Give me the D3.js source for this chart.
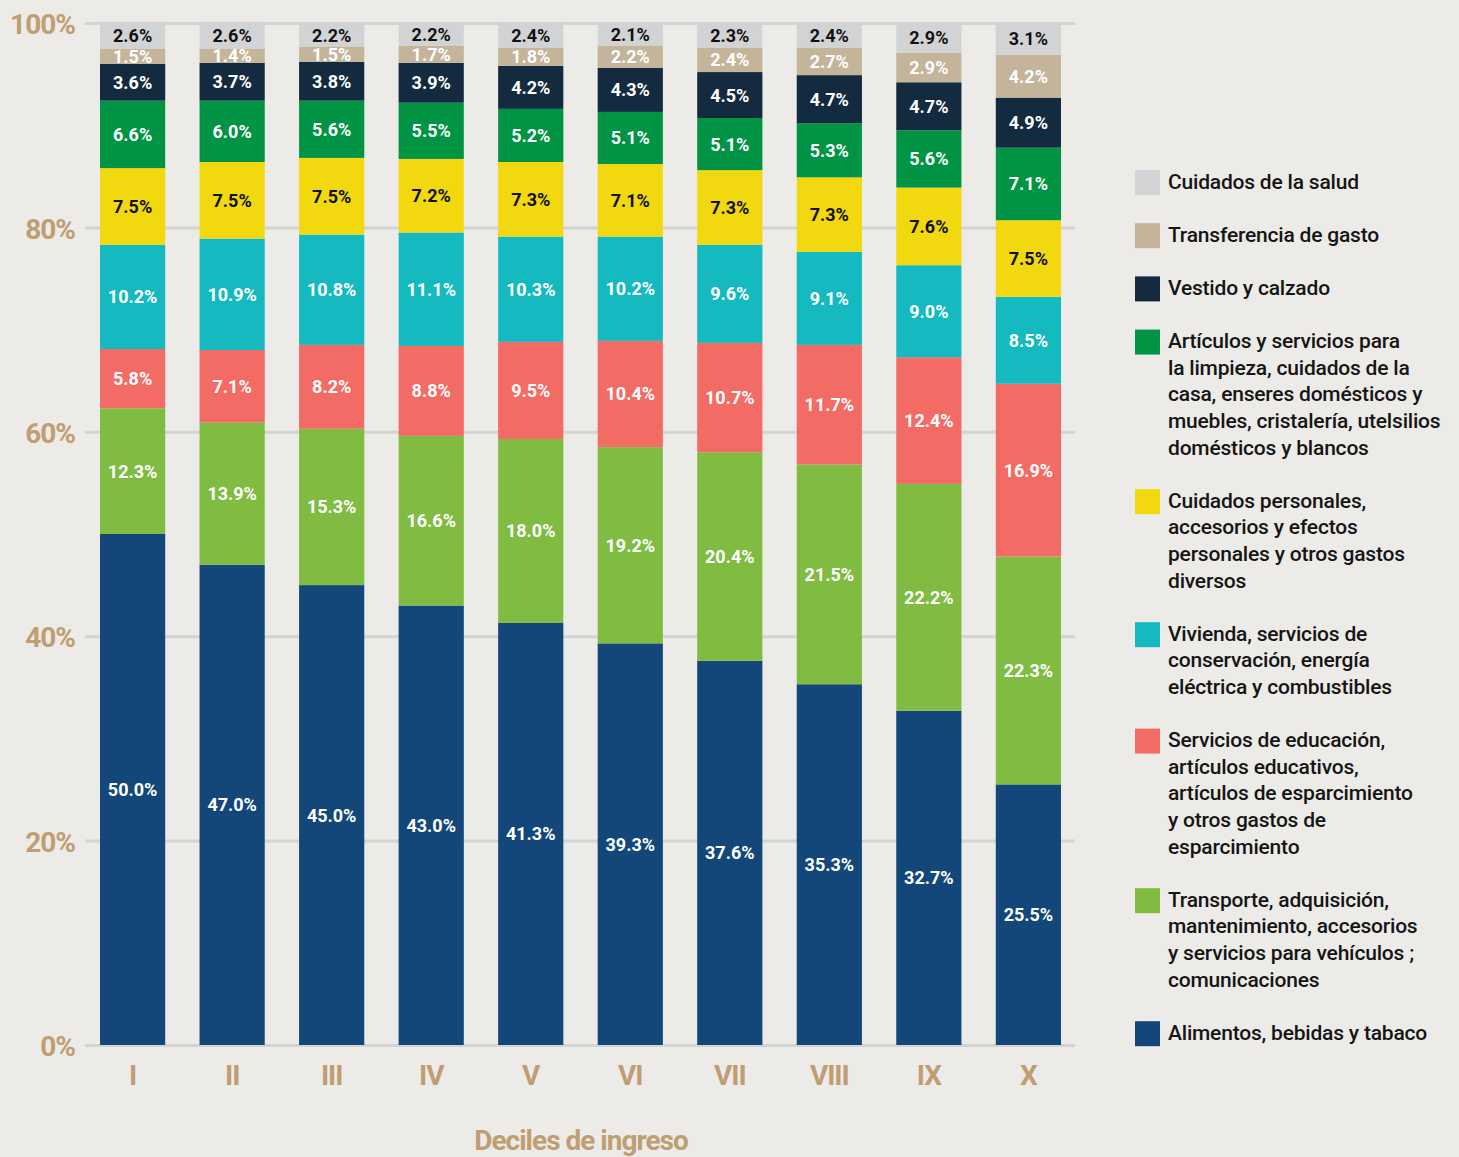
<!DOCTYPE html>
<html>
<head>
<meta charset="utf-8">
<title>Deciles de ingreso</title>
<style>
  body { margin: 0; background: #edebe8; }
  svg { display: block; }
</style>
</head>
<body>
<script src="https://cdn.jsdelivr.net/npm/d3@7"></script>
<script>
// deciles, bottom-to-top categories
var deciles = ["I", "II", "III", "IV", "V", "VI", "VII", "VIII", "IX", "X"];

var categories = [
  "Alimentos, bebidas y tabaco",
  "Transporte, adquisición, mantenimiento, accesorios y servicios para vehículos ; comunicaciones",
  "Servicios de educación, artículos educativos, artículos de esparcimiento y otros gastos de esparcimiento",
  "Vivienda, servicios de conservación, energía eléctrica y combustibles",
  "Cuidados personales, accesorios y efectos personales y otros gastos diversos",
  "Artículos y servicios para la limpieza, cuidados de la casa, enseres domésticos y muebles, cristalería, utelsilios domésticos y blancos",
  "Vestido y calzado",
  "Transferencia de gasto",
  "Cuidados de la salud"
];

// legend text as it is broken in the picture
var legendLines = {
  "Cuidados de la salud": ["Cuidados de la salud"],
  "Transferencia de gasto": ["Transferencia de gasto"],
  "Vestido y calzado": ["Vestido y calzado"],
  "Artículos y servicios para la limpieza, cuidados de la casa, enseres domésticos y muebles, cristalería, utelsilios domésticos y blancos":
    ["Artículos y servicios para", "la limpieza, cuidados de la", "casa, enseres domésticos y", "muebles, cristalería, utelsilios", "domésticos y blancos"],
  "Cuidados personales, accesorios y efectos personales y otros gastos diversos":
    ["Cuidados personales,", "accesorios y efectos", "personales y otros gastos", "diversos"],
  "Vivienda, servicios de conservación, energía eléctrica y combustibles":
    ["Vivienda, servicios de", "conservación, energía", "eléctrica y combustibles"],
  "Servicios de educación, artículos educativos, artículos de esparcimiento y otros gastos de esparcimiento":
    ["Servicios de educación,", "artículos educativos,", "artículos de esparcimiento", "y otros gastos de", "esparcimiento"],
  "Transporte, adquisición, mantenimiento, accesorios y servicios para vehículos ; comunicaciones":
    ["Transporte, adquisición,", "mantenimiento, accesorios", "y servicios para vehículos ;", "comunicaciones"],
  "Alimentos, bebidas y tabaco": ["Alimentos, bebidas y tabaco"]
};

var alimentos     = [50.0, 47.0, 45.0, 43.0, 41.3, 39.3, 37.6, 35.3, 32.7, 25.5];
var transporte    = [12.3, 13.9, 15.3, 16.6, 18.0, 19.2, 20.4, 21.5, 22.2, 22.3];
var educacion     = [5.8, 7.1, 8.2, 8.8, 9.5, 10.4, 10.7, 11.7, 12.4, 16.9];
var vivienda      = [10.2, 10.9, 10.8, 11.1, 10.3, 10.2, 9.6, 9.1, 9.0, 8.5];
var personales    = [7.5, 7.5, 7.5, 7.2, 7.3, 7.1, 7.3, 7.3, 7.6, 7.5];
var limpieza      = [6.6, 6.0, 5.6, 5.5, 5.2, 5.1, 5.1, 5.3, 5.6, 7.1];
var vestido       = [3.6, 3.7, 3.8, 3.9, 4.2, 4.3, 4.5, 4.7, 4.7, 4.9];
var transferencia = [1.5, 1.4, 1.5, 1.7, 1.8, 2.2, 2.4, 2.7, 2.9, 4.2];
var salud         = [2.6, 2.6, 2.2, 2.2, 2.4, 2.1, 2.3, 2.4, 2.9, 3.1];

var series = [alimentos, transporte, educacion, vivienda, personales, limpieza, vestido, transferencia, salud];

var colors = ["#134779", "#80bc42", "#f26b64", "#14babf", "#f2d90f", "#009444", "#132a3f", "#c4b49a", "#d2d3d5"];
var labelColors = ["#fff", "#fff", "#fff", "#fff", "#111", "#fff", "#fff", "#fff", "#111"];

var yTicks = [0, 20, 40, 60, 80, 100];

var W = 1459, H = 1157;
var svg = d3.select("body").append("svg").attr("width", W).attr("height", H);

var tan = "#bf9e72";

// build rows for d3.stack
var rows = deciles.map(function(d, i) {
  var r = { decil: d };
  categories.forEach(function(c, k) { r[c] = series[k][i]; });
  return r;
});
var stacked = d3.stack().keys(categories)(rows);

var x = d3.scaleBand().domain(deciles).range([82, 1079]).paddingInner(0.345).paddingOuter(0.181);
var y = d3.scaleLinear().domain([0, 100]).range([1045, 23]);

// grid + y labels
var yAxis = svg.append("g").attr("transform", "translate(85,0)")
  .call(d3.axisLeft(y).tickValues(yTicks).tickFormat(function(d){ return d + "%"; })
        .tickSize(-990).tickPadding(10));
yAxis.select(".domain").remove();
yAxis.selectAll("line").attr("stroke", "#d3d3d3").attr("stroke-width", 3);
yAxis.selectAll("text")
  .attr("fill", tan).attr("font-family", "Roboto").attr("font-weight", 700)
  .attr("font-size", 28).attr("letter-spacing", -1).attr("dy", "0.38em");

// bars
var layer = svg.selectAll("g.layer").data(stacked).enter().append("g").attr("class", "layer")
  .attr("fill", function(d, i){ return colors[i]; });
layer.selectAll("rect").data(function(d){ return d; }).enter().append("rect")
  .attr("x", function(d){ return x(d.data.decil); })
  .attr("y", function(d){ return y(d[1]); })
  .attr("width", x.bandwidth())
  .attr("height", function(d){ return y(d[0]) - y(d[1]); });

// value labels
stacked.forEach(function(s, k) {
  svg.append("g").selectAll("text").data(s).enter().append("text")
    .attr("x", function(d){ return x(d.data.decil) + x.bandwidth() / 2; })
    .attr("y", function(d){ return (y(d[0]) + y(d[1])) / 2; })
    .attr("dy", "0.36em")
    .attr("text-anchor", "middle")
    .attr("font-family", "Roboto").attr("font-weight", 700).attr("font-size", 18)
    .attr("fill", labelColors[k])
    .text(function(d){ return (d[1] - d[0]).toFixed(1) + "%"; });
});

// x labels
var xAxis = svg.append("g").attr("transform", "translate(0,1045)")
  .call(d3.axisBottom(x).tickSize(0).tickPadding(20));
xAxis.select(".domain").remove();
xAxis.selectAll("text")
  .attr("fill", tan).attr("font-family", "Roboto").attr("font-weight", 700)
  .attr("font-size", 28).attr("letter-spacing", -1);

svg.append("text").attr("x", 581).attr("y", 1150).attr("text-anchor", "middle")
  .attr("fill", tan).attr("font-family", "Roboto").attr("font-weight", 700)
  .attr("font-size", 28).attr("letter-spacing", -1)
  .text("Deciles de ingreso");

// legend (top to bottom = reverse of stack order)
var lineH = 26.6;
var legendOrder = categories.slice().reverse();
var colorOrder = colors.slice().reverse();
var ly = 181;
var legend = svg.append("g");
legendOrder.forEach(function(c, i) {
  var lines = legendLines[c];
  legend.append("rect").attr("x", 1135).attr("y", ly - 11).attr("width", 25).attr("height", 25)
    .attr("fill", colorOrder[i]);
  var t = legend.append("text")
    .attr("font-family", "Roboto").attr("font-weight", 500).attr("font-size", 21)
    .attr("letter-spacing", -0.2).attr("fill", "#151515");
  lines.forEach(function(l, j) {
    t.append("tspan").attr("x", 1168).attr("y", ly + j * lineH).attr("dy", "0.36em").text(l);
  });
  ly += (lines.length + 1) * lineH;
});
</script>
</body>
</html>
